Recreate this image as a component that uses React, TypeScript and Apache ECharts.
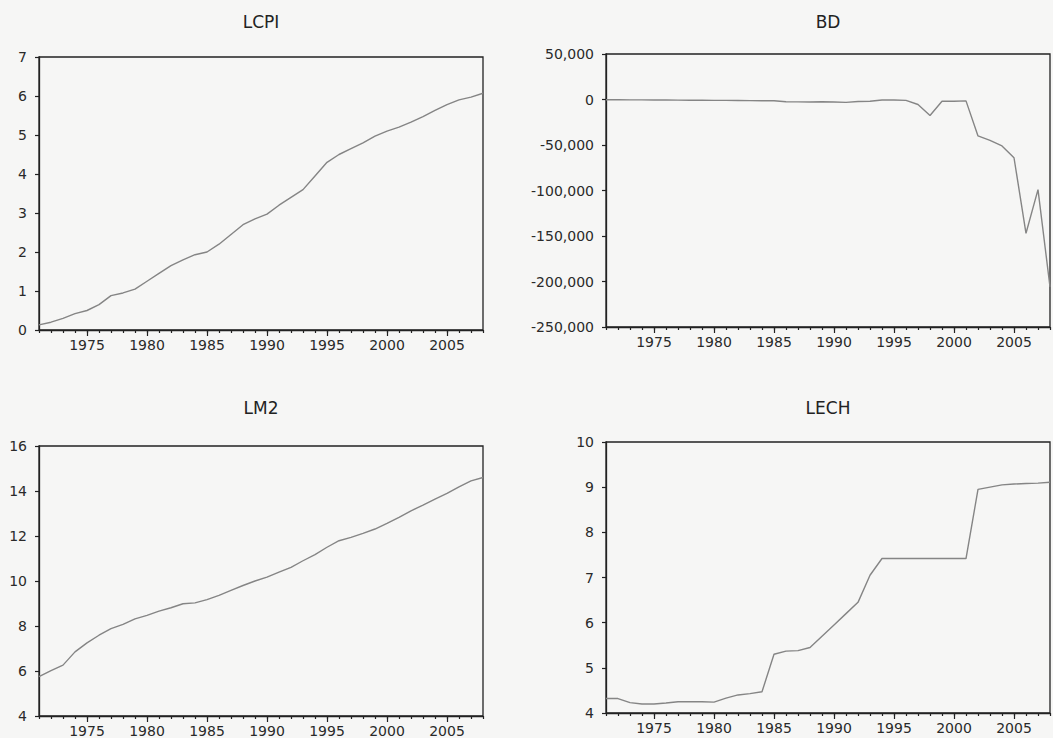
import React, { useEffect, useRef } from "react";
import * as echarts from "echarts";

const years = [
  "1971","1972","1973","1974","1975","1976","1977","1978","1979","1980",
  "1981","1982","1983","1984","1985","1986","1987","1988","1989","1990",
  "1991","1992","1993","1994","1995","1996","1997","1998","1999","2000",
  "2001","2002","2003","2004","2005","2006","2007","2008",
];

const lcpi = [
  0.13, 0.2, 0.3, 0.42, 0.5, 0.65, 0.88, 0.95, 1.05, 1.25,
  1.45, 1.65, 1.8, 1.93, 2.0, 2.2, 2.45, 2.7, 2.85, 2.97,
  3.2, 3.4, 3.6, 3.95, 4.3, 4.5, 4.65, 4.8, 4.97, 5.1,
  5.2, 5.33, 5.47, 5.63, 5.78, 5.9, 5.97, 6.07,
];

const bd = [
  -300, -300, -400, -400, -500, -600, -700, -800, -900, -1000,
  -1000, -1100, -1200, -1300, -1400, -2500, -2600, -2800, -2500, -2700,
  -3200, -2200, -2000, -500, -600, -1000, -5500, -17500, -2000, -2000,
  -1500, -40000, -45000, -51000, -64000, -147000, -99000, -206000,
];

const lm2 = [
  5.75, 6.02, 6.26, 6.85, 7.25, 7.59, 7.88, 8.07, 8.32, 8.47,
  8.66, 8.81, 8.99, 9.03, 9.17, 9.36, 9.58, 9.8, 10.0, 10.17,
  10.39, 10.61, 10.9, 11.17, 11.5, 11.79, 11.94, 12.12, 12.31, 12.56,
  12.83, 13.12, 13.37, 13.64, 13.89, 14.18, 14.45, 14.6,
];

const lech = [
  4.32, 4.32, 4.23, 4.2, 4.2, 4.22, 4.25, 4.25, 4.25, 4.24,
  4.33, 4.4, 4.43, 4.47, 5.3, 5.37, 5.38, 5.45, 5.7, 5.95,
  6.2, 6.45, 7.05, 7.42, 7.42, 7.42, 7.42, 7.42, 7.42, 7.42,
  7.42, 8.95, 9.0, 9.05, 9.07, 9.08, 9.09, 9.11,
];

const titles = ["LCPI", "BD", "LM2", "LECH"];
const yRanges = [
  { min: 0, max: 7, interval: 1 },
  { min: -250000, max: 50000, interval: 50000 },
  { min: 4, max: 16, interval: 2 },
  { min: 4, max: 10, interval: 1 },
];

const FONT = "DejaVu Sans";
const TEXT = "#2a2a2a";

export default function App() {
  const ref = useRef<HTMLDivElement>(null);

  useEffect(() => {
    if (!ref.current) return;
    const chart = echarts.init(ref.current, null, { renderer: "svg" });

    const grids = [
      { left: 39, top: 57, width: 444, height: 273 },
      { left: 606, top: 54, width: 444, height: 273 },
      { left: 39, top: 446, width: 444, height: 270 },
      { left: 606, top: 442, width: 444, height: 271 },
    ];
    const seriesData = [lcpi, bd, lm2, lech];

    const xAxes: any[] = [];
    const yAxes: any[] = [];
    const series: any[] = [];
    const graphics: any[] = [];

    grids.forEach((g, i) => {
      xAxes.push({
        type: "category",
        gridIndex: i,
        data: years,
        boundaryGap: false,
        position: "bottom",
        axisLine: { show: true, onZero: false, lineStyle: { color: "#222", width: 1.3 } },
        axisTick: { show: true, interval: 0, length: 3, lineStyle: { color: "#222", width: 1.2 } },
        axisLabel: {
          interval: (_idx: number, val: string) => Number(val) % 5 === 0,
          color: TEXT,
          fontFamily: FONT,
          fontSize: 14,
          margin: 8,
        },
        splitLine: { show: false },
      });
      xAxes.push({
        type: "category",
        gridIndex: i,
        data: years,
        boundaryGap: false,
        position: "bottom",
        axisLine: { show: false, onZero: false },
        axisTick: {
          show: true,
          interval: (_idx: number, val: string) => Number(val) % 5 === 0,
          length: 6,
          lineStyle: { color: "#222", width: 1.2 },
        },
        axisLabel: { show: false },
        splitLine: { show: false },
      });
      yAxes.push({
        type: "value",
        gridIndex: i,
        min: yRanges[i].min,
        max: yRanges[i].max,
        interval: yRanges[i].interval,
        axisLine: { show: true, onZero: false, lineStyle: { color: "#222", width: 1.3 } },
        axisTick: { show: true, length: 4, lineStyle: { color: "#222", width: 1.2 } },
        axisLabel: {
          color: TEXT,
          fontFamily: FONT,
          fontSize: 14,
          margin: 12,
          formatter: (v: number) =>
            i === 1 ? v.toLocaleString("en-US") : String(v),
        },
        splitLine: { show: false },
      });
      series.push({
        type: "line",
        xAxisIndex: i * 2,
        yAxisIndex: i,
        data: seriesData[i],
        symbol: "none",
        lineStyle: { color: "#858585", width: 1.4 },
      });
      graphics.push({
        type: "text",
        x: g.left + g.width / 2,
        y: i < 2 ? 22 : 408,
        style: {
          text: titles[i],
          fill: "#222",
          font: `17px "${FONT}"`,
          textAlign: "center",
          textVerticalAlign: "middle",
        },
      });
    });

    chart.setOption({
      animation: false,
      backgroundColor: "#f6f6f5",
      grid: grids.map((g) => ({
        ...g,
        show: true,
        borderColor: "#222",
        borderWidth: 1.3,
        backgroundColor: "transparent",
        containLabel: false,
      })),
      xAxis: xAxes,
      yAxis: yAxes,
      series,
      graphic: graphics,
    });

    return () => chart.dispose();
  }, []);

  return (
    <div
      ref={ref}
      style={{ position: "fixed", left: 0, top: 0, width: 1053, height: 738 }}
    />
  );
}
